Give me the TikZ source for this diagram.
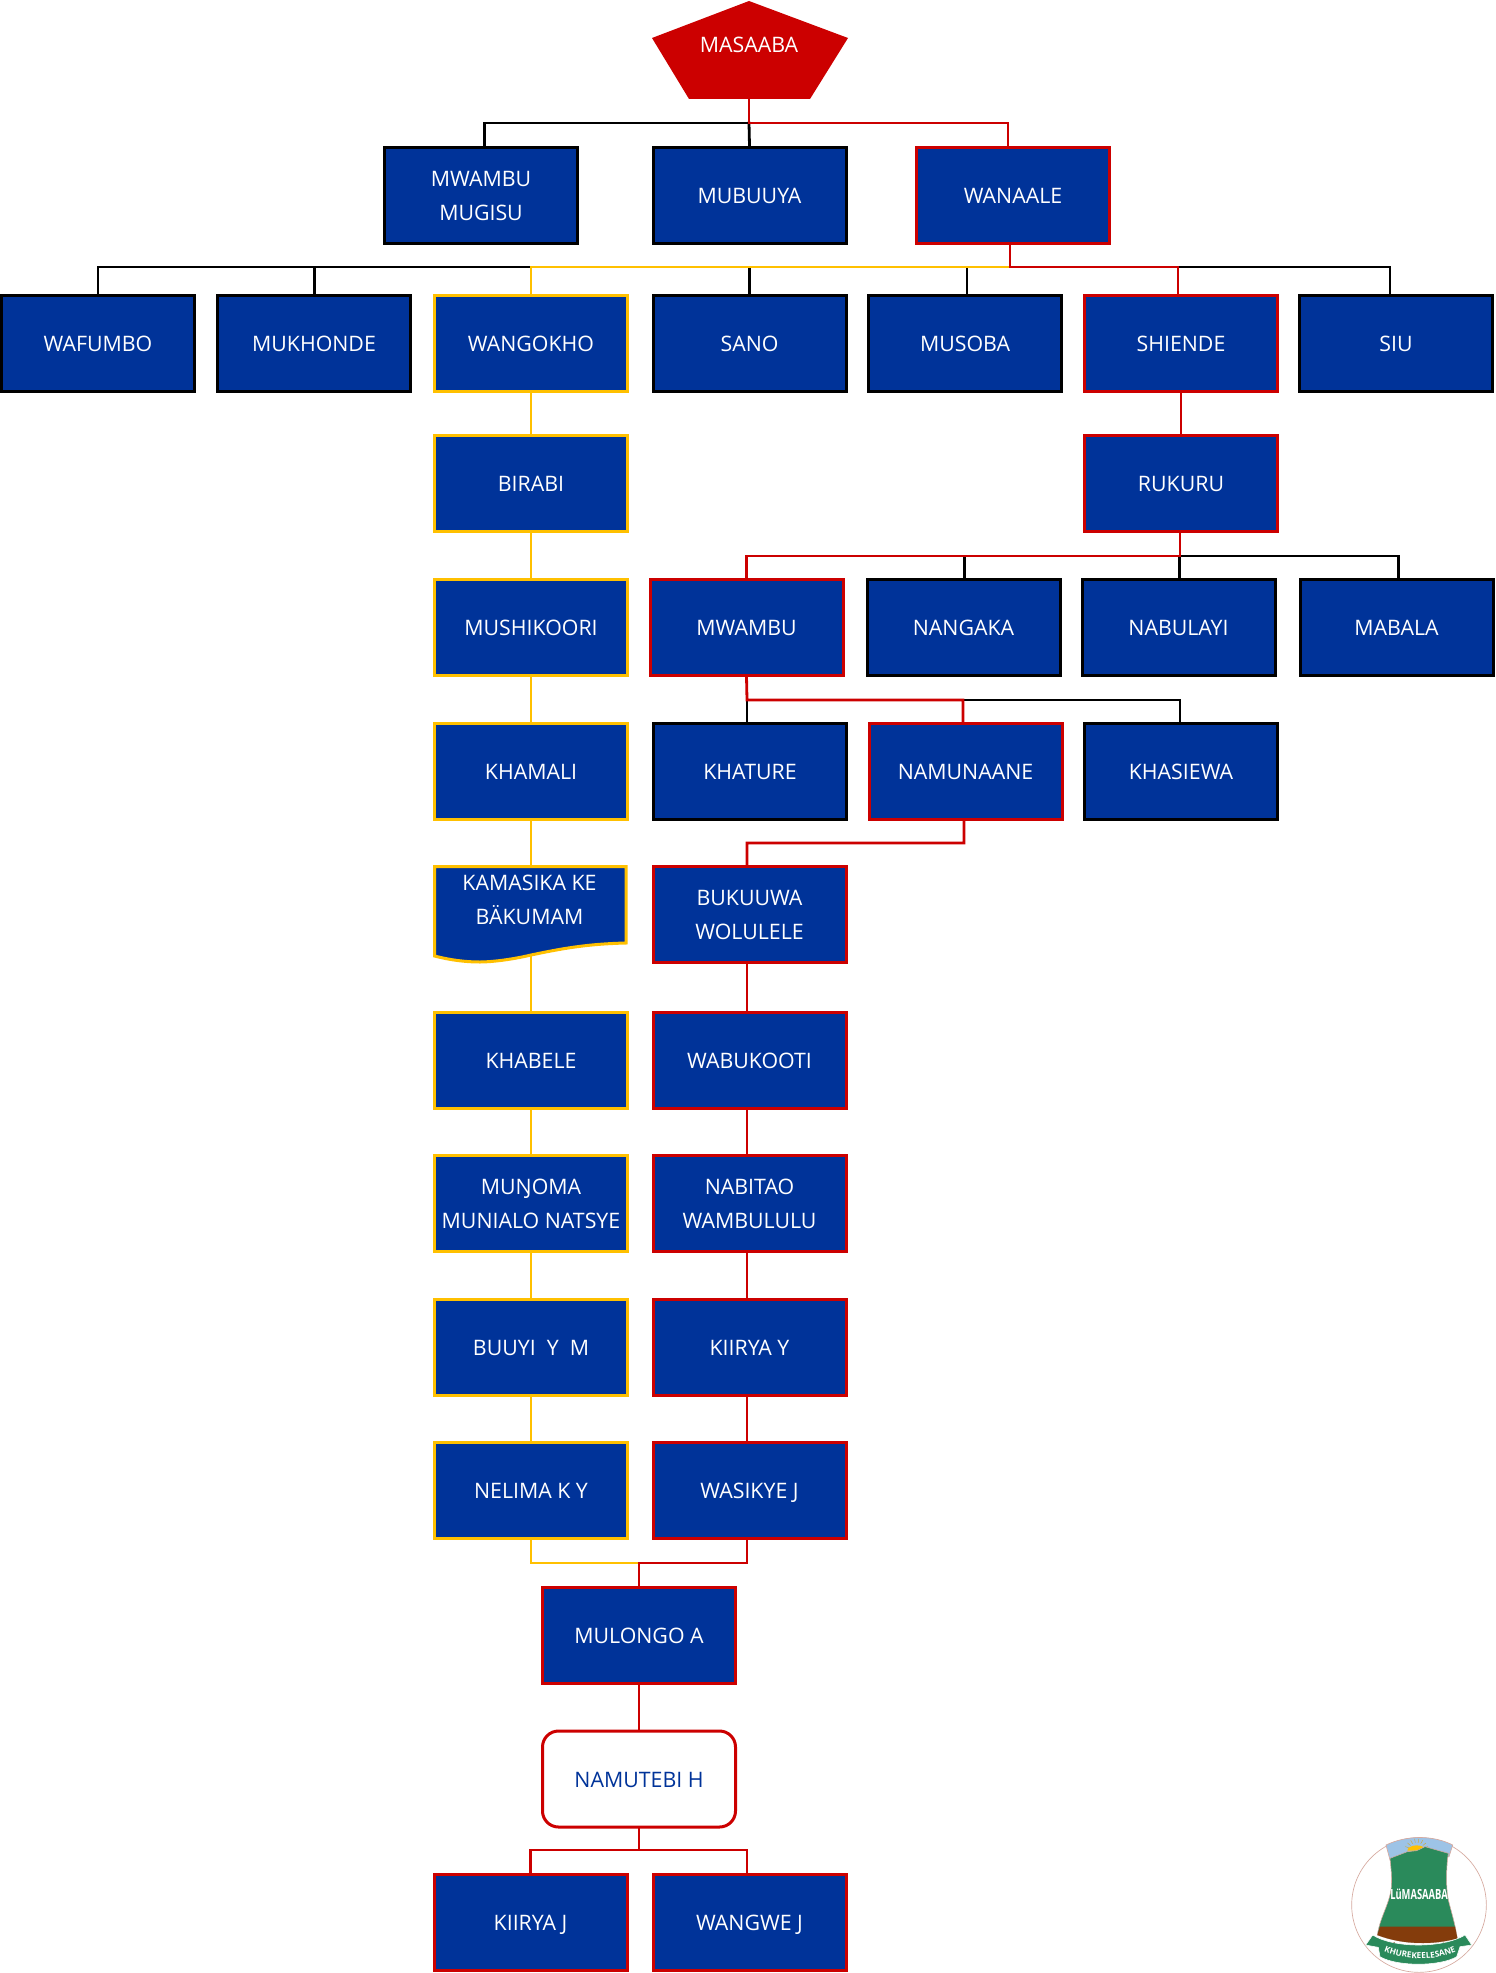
\documentclass[tikz,border=0pt]{standalone}
\usepackage{fontspec}
\setmainfont{Open Sans}
\usetikzlibrary{decorations.text}
\definecolor{boxblue}{RGB}{0,51,153}
\definecolor{linered}{RGB}{204,0,0}
\definecolor{lineyellow}{RGB}{255,192,0}
\definecolor{logogreen}{RGB}{42,138,91}
\definecolor{logobrown}{RGB}{132,60,12}
\definecolor{logosky}{RGB}{157,195,230}
\definecolor{logoedge}{RGB}{214,170,160}
\tikzset{
	namebox/.style={rectangle, fill=boxblue, text=white, line width=2.25pt, minimum width=144.75pt, minimum height=72pt, inner sep=0pt, align=center, text height=12.7pt, text depth=0pt, font=\fontsize{16}{25.5}\selectfont},
	twolines/.style={text height=38pt, text depth=0pt},
	blackbox/.style={namebox, draw=black},
	redbox/.style={namebox, draw=linered},
	yellowbox/.style={namebox, draw=lineyellow},
	blackline/.style={draw=black, line width=2.1pt, line cap=rect},
	redline/.style={draw=linered, line width=2.1pt, line cap=rect},
	yellowline/.style={draw=lineyellow, line width=2.1pt, line cap=rect}
}
\begin{document}
\begin{tikzpicture}[x=0.75pt, y=-0.75pt]
	\useasboundingbox (0,0) rectangle (1495,1973);

	\draw[fill=linered, draw=none] (749,1) -- (848,38) -- (810,99) -- (689,99) -- (652,38) -- cycle;
	\draw (749,45) node (masaaba) [text=white, font=\fontsize{16}{25.5}\selectfont] {MASAABA};
	\coordinate (masaababot) at (749,99);

	\draw (481,195.5) node (mwambumugisu) [blackbox, twolines] {MWAMBU\\MUGISU};
	\draw (749.5,195.5) node (mubuuya) [blackbox] {MUBUUYA};
	\draw (1013,195.5) node (wanaale) [redbox] {WANAALE};

	\draw (98,343.5) node (wafumbo) [blackbox] {WAFUMBO};
	\draw (314,343.5) node (mukhonde) [blackbox] {MUKHONDE};
	\draw (531,343.5) node (wangokho) [yellowbox] {WANGOKHO};
	\draw (749.5,343.5) node (sano) [blackbox] {SANO};
	\draw (965,343.5) node (musoba) [blackbox] {MUSOBA};
	\draw (1181,343.5) node (shiende) [redbox] {SHIENDE};
	\draw (1396,343.5) node (siu) [blackbox] {SIU};

	\draw (531,483) node (birabi) [yellowbox] {BIRABI};
	\draw (531,627) node (mushikoori) [yellowbox] {MUSHIKOORI};
	\draw (531,771) node (khamali) [yellowbox] {KHAMALI};
	\draw[fill=boxblue, draw=lineyellow, line width=2.25pt] (434.5,866.5) -- (626,866.5) -- (626,943) .. controls (585,944) and (560,949) .. (531,955) .. controls (510,960) and (490,962) .. (480,962) .. controls (465,962) and (450,960) .. (434.5,956) -- cycle;
	\draw (529.5,900) node (kamasika) [text=white, align=center, font=\fontsize{16}{25.5}\selectfont] {KAMASIKA KE\\BÄKUMAM};
	\coordinate (kamasikatop) at (531,866);
	\coordinate (kamasikabot) at (531,955);
	\draw (531,1060) node (khabele) [yellowbox] {KHABELE};
	\draw (531,1203) node (munoma) [yellowbox, twolines] {MUŊOMA\\MUNIALO NATSYE};
	\draw (531,1347.5) node (buuyi) [yellowbox] {BUUYI\ \ Y\ \ M};
	\draw (531,1490) node (nelima) [yellowbox] {NELIMA K Y};

	\draw (1181,483) node (rukuru) [redbox] {RUKURU};
	\draw (746.5,627) node (mwambu) [redbox] {MWAMBU};
	\draw (963.5,627) node (nangaka) [blackbox] {NANGAKA};
	\draw (1178.5,627) node (nabulayi) [blackbox] {NABULAYI};
	\draw (1396.5,627) node (mabala) [blackbox] {MABALA};
	\draw (750,771) node (khature) [blackbox] {KHATURE};
	\draw (965.5,771) node (namunaane) [redbox] {NAMUNAANE};
	\draw (1181,771) node (khasiewa) [blackbox] {KHASIEWA};

	\draw (749.5,914) node (bukuuwa) [redbox, twolines] {BUKUUWA\\WOLULELE};
	\draw (749.5,1060) node (wabukooti) [redbox] {WABUKOOTI};
	\draw (749.5,1203) node (nabitao) [redbox, twolines] {NABITAO\\WAMBULULU};
	\draw (749.5,1347.5) node (kiiryay) [redbox] {KIIRYA Y};
	\draw (749.5,1490) node (wasikye) [redbox] {WASIKYE J};

	\draw (639,1635) node (mulongo) [redbox] {MULONGO A};
	\draw (639,1779) node (namutebi) [namebox, fill=white, text=boxblue, draw=linered, rounded corners=12pt] {NAMUTEBI H};
	\draw (530.5,1922) node (kiiryaj) [redbox] {KIIRYA J};
	\draw (749.5,1922) node (wangwej) [redbox] {WANGWE J};

	\coordinate (busone) at (749,123);
	\coordinate (bustwo) at (1010,267);
	\coordinate (busthree) at (1180,556);
	\coordinate (busfour) at (747,700);
	\coordinate (busfive) at (747,843);
	\coordinate (bussix) at (639,1563);
	\coordinate (busseven) at (639,1850);

	\draw[blackline] (busone) -| ([xshift=2.6pt]mwambumugisu.north);
	\draw[blackline] (busone) -- (mubuuya.north);
	\foreach \n/\s in {wafumbo/0, mukhonde/0.4, sano/0, musoba/1.5, siu/-4.5}
	\draw[blackline] (bustwo) -| ([xshift=\s pt]\n.north);
	\foreach \n/\s in {nangaka/1, nabulayi/1, mabala/1.4}
	\draw[blackline] (busthree) -| ([xshift=\s pt]\n.north);
	\foreach \n/\s in {khature/-2.25, khasiewa/-0.75}
	\draw[blackline] (busfour) -| ([xshift=\s pt]\n.north);

	\draw[yellowline] (bustwo) -| (wangokho.north);
	\foreach \a/\b in {wangokho/birabi, birabi/mushikoori, mushikoori/khamali, khamali/kamasikatop, kamasikabot/khabele, khabele/munoma, munoma/buuyi, buuyi/nelima}
	\draw[yellowline] (\a) -- (\b);
	\draw[yellowline] (nelima.south) |- (bussix);

	\draw[redline] (masaababot) -- (busone) -| ([xshift=-3.75pt]wanaale.north);
	\draw[redline] ([xshift=-2.25pt]wanaale.south) -- (bustwo) -| ([xshift=-2.25pt]shiende.north);
	\draw[redline] (shiende) -- (rukuru);
	\draw[redline] ([xshift=-0.75pt]rukuru.south) -- (busthree) -| (mwambu.north);
	\draw[redline] (mwambu.south) -- (busfour) -| ([xshift=-1.9pt]namunaane.north);
	\draw[redline] ([xshift=-1.2pt]namunaane.south) |- (busfive) -- ([xshift=-1.9pt]bukuuwa.north);
	\foreach \a/\b in {bukuuwa/wabukooti, wabukooti/nabitao, nabitao/kiiryay, kiiryay/wasikye}
	\draw[redline] ([xshift=-1.9pt]\a.south) -- ([xshift=-1.9pt]\b.north);
	\draw[redline] ([xshift=-1.9pt]wasikye.south) |- (bussix) -- (mulongo.north);
	\draw[redline] (mulongo) -- (namutebi);
	\draw[redline] (namutebi.south) -- (busseven) -| (kiiryaj.north);
	\draw[redline] (busseven) -| ([xshift=-1.9pt]wangwej.north);

	\begin{scope}[shift={(1300,1800)}, x=0.25pt, y=-0.25pt]
		\draw[draw=logoedge, fill=white, line width=0.5pt] (357,315) circle (50.5pt);
		\draw[fill=logosky, draw=logoedge, line width=0.5pt] (258,135) .. controls (320,105) and (400,105) .. (458,135) -- (447,170) -- (270,180) -- cycle;
		\foreach \a in {-70,-50,-30,-10,10,30,50,70}
		\draw[draw=lineyellow!60!gray, line width=0.3pt] (350,152) ++(270+\a:24) -- ++(270+\a:12);
		\draw[fill=lineyellow, draw=none] (322,152) arc[start angle=180, end angle=360, x radius=28, y radius=16];
		\draw[fill=logogreen, draw=logoedge, line width=0.4pt] (270,175) -- (322,155) -- (350,152) -- (375,140) -- (445,160) .. controls (438,200) and (438,270) .. (445,300) .. controls (455,340) and (465,370) .. (472,415) .. controls (400,435) and (310,435) .. (232,405) .. controls (240,350) and (270,310) .. (274,260) .. controls (276,220) and (272,200) .. (270,175) -- cycle;
		\draw[fill=logobrown, draw=none] (240,380) -- (465,380) -- (472,415) .. controls (400,435) and (310,435) .. (232,405) -- cycle;
		\draw[fill=logobrown, draw=none] (250,425) -- (285,425) -- (285,450) -- (250,450) -- cycle;
		\draw[fill=logobrown, draw=none] (430,425) -- (465,425) -- (465,450) -- (430,450) -- cycle;
		\draw[fill=logogreen, draw=white, line width=0.4pt] (197,435) -- (218,405) .. controls (280,445) and (430,445) .. (495,405) -- (515,435) -- (480,440) -- (470,470) .. controls (420,500) and (290,500) .. (240,470) -- (235,442) -- cycle;
		\path[decorate, decoration={text along path, text align=center, text={|\fontsize{6.2}{6.2}\selectfont\bfseries\color{white}|KHUREKEELESANE}}] (220,438) .. controls (295,488) and (425,488) .. (500,438);
		\draw (357,283) node (logotext) [text=white, inner sep=0pt, font=\fontsize{10.5}{10.5}\selectfont\bfseries] {\scalebox{.67}[1]{LüMASAABA}};
	\end{scope}
\end{tikzpicture}
\end{document}
